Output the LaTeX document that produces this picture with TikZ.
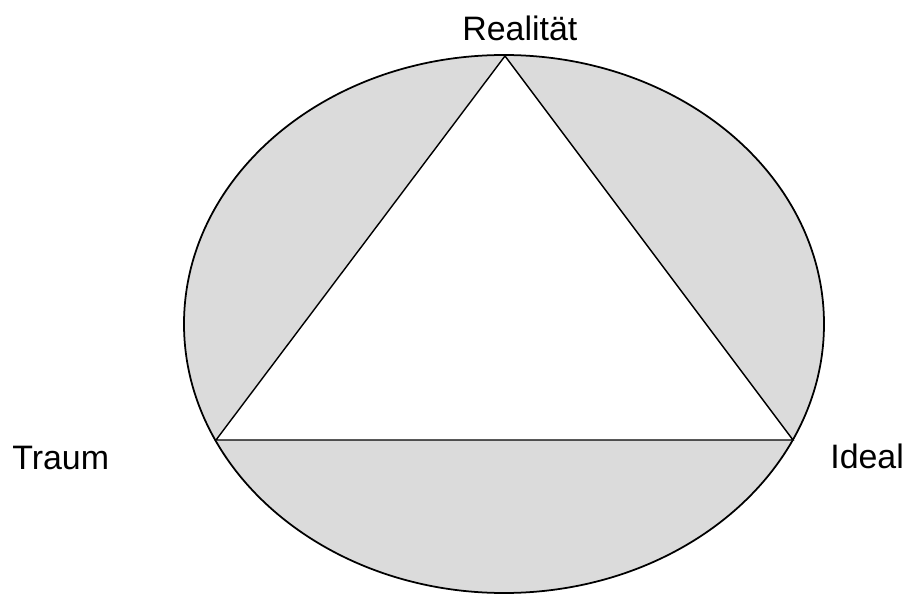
\documentclass[tikz,border=0pt]{standalone}
\usepackage{fontspec}
\setmainfont{Liberation Sans}
\begin{document}
\begin{tikzpicture}[x=0.02cm, y=-0.02cm,
  every node/.style={inner sep=0pt, font=\fontsize{19.3}{23}\selectfont}]
\useasboundingbox (0,0) rectangle (904,595);
% outer ellipse
\draw[line width=1pt, fill=black!14] (504,324) ellipse [x radius=320, y radius=269];
% triangle
\coordinate (r) at (505,56);
\coordinate (t) at (216,440);
\coordinate (i) at (793,440);
\draw[line width=0.8pt, fill=white] (r)--(i)--(t)--cycle;
% labels
\node[anchor=base west] (real) at (462,40) {Realität};
\node[anchor=base west] (traum) at (12,469) {Traum};
\node[anchor=base west] (ideal) at (830,468) {Ideal};
\end{tikzpicture}
\end{document}
